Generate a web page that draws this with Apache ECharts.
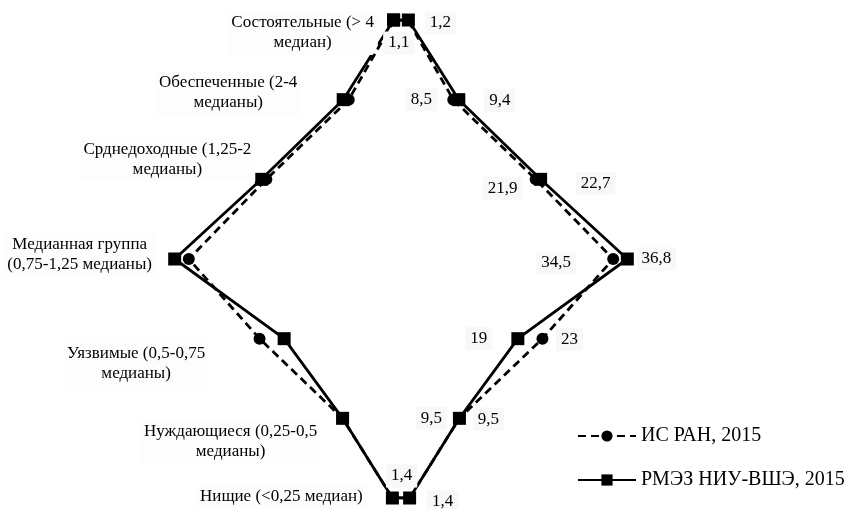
<!DOCTYPE html>
<html>
<head>
<meta charset="utf-8">
<script src="https://cdn.jsdelivr.net/npm/echarts@6/dist/echarts.min.js"></script>
<style>html,body{margin:0;padding:0;background:#fff}#c{width:859px;height:509px}</style>
</head>
<body>
<div id="c"></div>
<script>
// ---- data ----
const categories = [
  'Состоятельные (> 4\nмедиан)',
  'Обеспеченные (2-4\nмедианы)',
  'Срднедоходные (1,25-2\nмедианы)',
  'Медианная группа\n(0,75-1,25 медианы)',
  'Уязвимые (0,5-0,75\nмедианы)',
  'Нуждающиеся (0,25-0,5\nмедианы)',
  'Нищие (<0,25 медиан)'
];
const seriesNames = ['ИС РАН, 2015', 'РМЭЗ НИУ-ВШЭ, 2015'];
const isRan = [1.1, 8.5, 21.9, 34.5, 23, 9.5, 1.4];
const rmez = [1.2, 9.4, 22.7, 36.8, 19, 9.5, 1.4];

// ---- label placement (style) ----
const catOffsets = [[-91, 13], [-115, -7], [-94, -20], [-95, -4], [-148, 25], [-112, 23], [-111, -1]];
const isRanOffsets = [[-9, 23], [-32, 0], [-33, 9], [-57, 4], [27, 1], [-28, 0], [-8, -22]];
const rmezOffsets = [[32, 3], [41, 1], [55, 4], [29, 0], [-39, 0], [29, 1], [33, 4]];

const FONT = 'Liberation Serif';
const fmt = v => String(v).replace('.', ',');

function buildSeriesData(values, rightOffsets, leftLabels) {
  const pts = [];
  // left side, top to bottom
  values.forEach((v, i) => {
    const item = { value: [-v, i] };
    if (leftLabels) {
      item.label = {
        show: true, position: 'inside', align: 'center', verticalAlign: 'middle',
        offset: catOffsets[i], formatter: leftLabels[i],
        fontFamily: FONT, fontSize: 17, lineHeight: 20, color: '#000',
        backgroundColor: '#fdfdfd', padding: [2, 4]
      };
    }
    pts.push(item);
  });
  // right side, bottom to top
  for (let i = values.length - 1; i >= 0; i--) {
    pts.push({
      value: [values[i], i],
      label: {
        show: true, position: 'inside', align: 'center', verticalAlign: 'middle',
        offset: rightOffsets[i], formatter: fmt(values[i]),
        fontFamily: FONT, fontSize: 17, color: '#000',
        backgroundColor: '#f8f8f8', padding: [3, 5]
      }
    });
  }
  // close the shape
  pts.push({ value: [-values[0], 0], label: { show: false } });
  return pts;
}

const chart = echarts.init(document.getElementById('c'), null, { renderer: 'canvas' });
chart.setOption({
  animation: false,
  backgroundColor: '#fff',
  grid: { left: 155, right: 212, top: 20, bottom: 11, containLabel: false },
  xAxis: { type: 'value', min: -40, max: 40, show: false },
  yAxis: { type: 'value', min: 0, max: 6, inverse: true, show: false },
  legend: {
    orient: 'vertical', left: 572, top: 421,
    itemWidth: 58, itemHeight: 14, itemGap: 24,
    textStyle: { fontFamily: FONT, fontSize: 20, color: '#000' },
    data: seriesNames
  },
  series: [
    {
      name: seriesNames[0], type: 'line',
      data: buildSeriesData(isRan, isRanOffsets, null),
      symbol: 'circle', symbolSize: 12,
      lineStyle: { color: '#000', width: 2.8, type: [8, 5] },
      itemStyle: { color: '#000' },
      z: 3
    },
    {
      name: seriesNames[1], type: 'line',
      data: buildSeriesData(rmez, rmezOffsets, categories),
      symbol: 'rect', symbolSize: 13,
      lineStyle: { color: '#000', width: 2.8, type: 'solid' },
      itemStyle: { color: '#000' },
      z: 2
    }
  ]
});
</script>
</body>
</html>
